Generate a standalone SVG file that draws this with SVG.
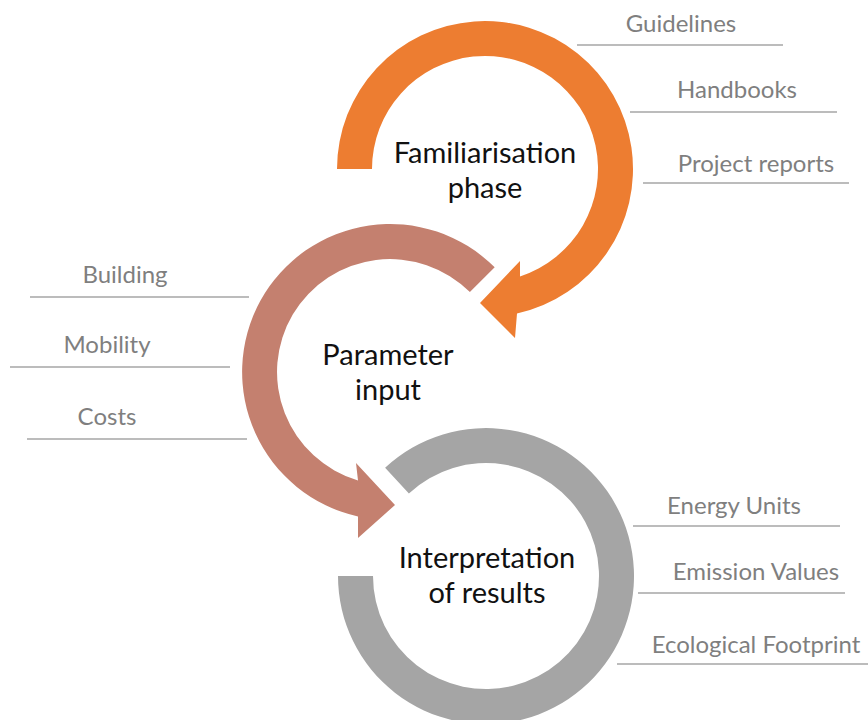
<svg xmlns="http://www.w3.org/2000/svg" width="868" height="720" viewBox="0 0 868 720">
<style>
.main{font-family:Lato,"Open Sans","Liberation Sans",sans-serif;font-size:29px;fill:#111;text-anchor:middle}
.lbl{font-family:Lato,"Open Sans","Liberation Sans",sans-serif;font-size:24px;fill:#7f7f7f;text-anchor:middle}
.ln{stroke:#a6a6a6;stroke-width:1.5;fill:none}
</style>
<rect width="868" height="720" fill="#fff"/>
<g id="familiarisation">
<path d="M 337,169 A 148 148 0 1 1 517,313.5 L 515,338 L 480,303 L 520,261 L 520,276.4 A 113 113 0 1 0 372,169 Z" fill="#ED7D31"/>
<text class="main" x="485" y="163">Familiarisation</text>
<text class="main" x="485" y="198">phase</text>
</g>
<g id="parameter">
<path d="M 494.7,267.3 A 148 148 0 1 0 358,516.5 L 358,538 L 395,505 L 356,463 L 358,480.4 A 113 113 0 1 1 469.9,292.1 Z" fill="#C4806F"/>
<text class="main" x="388" y="365">Parameter</text>
<text class="main" x="388" y="400">input</text>
</g>
<g id="interpretation">
<path d="M 338,576 A 148 148 0 1 0 385.1,467.8 L 408.9,493.4 A 113 113 0 1 1 373,576 Z" fill="#A5A5A5"/>
<text class="main" x="487" y="568">Interpretation</text>
<text class="main" x="487" y="603">of results</text>
</g>
<g id="label-guidelines"><text class="lbl" x="681" y="32">Guidelines</text><line class="ln" x1="577" y1="45" x2="783" y2="45"/></g>
<g id="label-handbooks"><text class="lbl" x="737" y="98">Handbooks</text><line class="ln" x1="630" y1="112" x2="837" y2="112"/></g>
<g id="label-project-reports"><text class="lbl" x="756" y="172">Project reports</text><line class="ln" x1="643" y1="183" x2="849" y2="183"/></g>
<g id="label-building"><text class="lbl" x="125" y="283">Building</text><line class="ln" x1="30" y1="297" x2="249" y2="297"/></g>
<g id="label-mobility"><text class="lbl" x="107" y="353">Mobility</text><line class="ln" x1="10" y1="367" x2="230" y2="367"/></g>
<g id="label-costs"><text class="lbl" x="107" y="425">Costs</text><line class="ln" x1="27" y1="439" x2="247" y2="439"/></g>
<g id="label-energy-units"><text class="lbl" x="734" y="514">Energy Units</text><line class="ln" x1="633" y1="526" x2="840" y2="526"/></g>
<g id="label-emission-values"><text class="lbl" x="756" y="580">Emission Values</text><line class="ln" x1="638" y1="593" x2="845" y2="593"/></g>
<g id="label-ecological-footprint"><text class="lbl" x="756" y="653">Ecological Footprint</text><line class="ln" x1="617" y1="664" x2="868" y2="664"/></g>
<g id="connectors"></g>
</svg>
